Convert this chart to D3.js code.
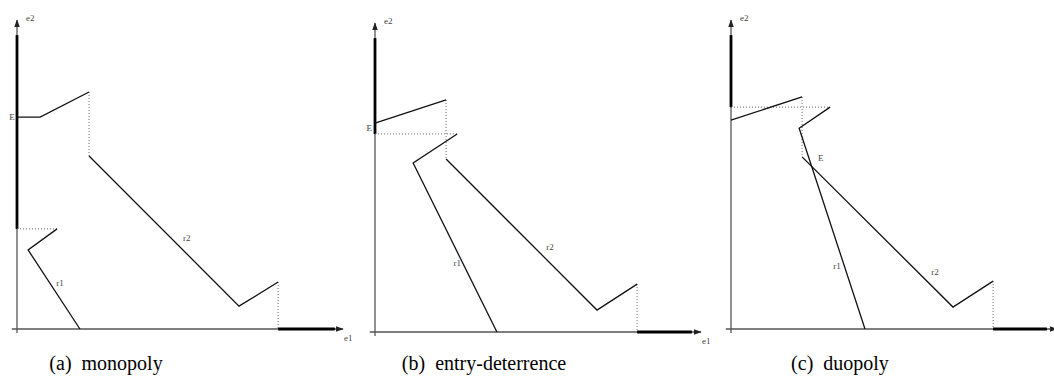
<!DOCTYPE html>
<html><head><meta charset="utf-8">
<script src="https://cdn.jsdelivr.net/npm/d3@7"></script>
<style>
html,body{margin:0;padding:0;background:#fff;}
svg{display:block;}
</style></head>
<body>
<svg id="chart" width="1054" height="385"></svg>
<script>
// ---- data (e1, e2 in abstract units 0..100) ----
const captions = ["(a)  monopoly", "(b)  entry-deterrence", "(c)  duopoly"];
// firm-2 reaction curve r2: solid pieces
const r2UpperE1 = [[0, 7.1, 22.1], [0, 21.8], [0, 21.8]];
const r2UpperE2 = [[68.6, 68.6, 76.7], [67.6, 75.1], [67.6, 75.1]];
const r2LowerE1 = [[22.1, 68.1, 80.1], [21.8, 68.1, 80.4], [21.8, 68.1, 80.4]];
const r2LowerE2 = [[56.0, 7.4, 15.2], [56.0, 7.1, 15.5], [55.7, 7.1, 15.5]];
// firm-1 reaction curve r1
const r1E1 = [[12.3, 3.4, 19.3], [25.2, 11.7, 37.4], [30.4, 20.9, 41.1]];
const r1E2 = [[32.4, 25.6, 0], [64.1, 54.7, 0], [71.8, 65.0, 0]];
// thick axis segments (corner solutions)
const thickE2Top = [95.1, 95.1, 95.1];
const thickE1End = [97.5, 97.2, 96.9];
// label positions
const eLabel = [[-1.5, 68.6], [-1.8, 66.0], [26.7, 55.3]];
const r1Label = [[13.2, 14.9], [25.2, 22.3], [32.5, 20.4]];
const r2Label = [[52.1, 29.4], [53.7, 27.5], [62.6, 18.4]];

// ---- layout ----
const origins = [[17, 329], [375, 332], [731, 329]];
const W = 326, H = 309;
const captionX = [106, 484, 840];

const svg = d3.select("#chart");
const defs = svg.append("defs");
defs.append("marker").attr("id", "arr").attr("viewBox", "0 0 10 10")
  .attr("refX", 9).attr("refY", 5).attr("markerWidth", 6).attr("markerHeight", 6)
  .attr("orient", "auto-start-reverse")
  .append("path").attr("d", "M0,1.5L10,5L0,8.5Z").attr("fill", "#222");

const lineCol = "#111", axisCol = "#555", dotCol = "#666";

captions.forEach((cap, i) => {
  const [ox, oy] = origins[i];
  const x = d3.scaleLinear().domain([0, 100]).range([ox, ox + W]);
  const y = d3.scaleLinear().domain([0, 100]).range([oy, oy - H]);
  const g = svg.append("g");
  const line = d3.line().x(d => x(d[0])).y(d => y(d[1]));
  const zip = (a, b) => a.map((v, k) => [v, b[k]]);

  // axes
  g.append("line").attr("x1", x(-1.6)).attr("x2", x(100)).attr("y1", y(0)).attr("y2", y(0))
    .attr("stroke", axisCol).attr("stroke-width", 1.3).attr("marker-end", "url(#arr)");
  g.append("line").attr("x1", x(0)).attr("x2", x(0)).attr("y1", y(-1.3)).attr("y2", y(100))
    .attr("stroke", axisCol).attr("stroke-width", 1.3).attr("marker-end", "url(#arr)");

  // thick corner segments
  const r1Top = r1E2[i][0];
  g.append("line").attr("x1", x(0)).attr("x2", x(0)).attr("y1", y(r1Top)).attr("y2", y(thickE2Top[i]))
    .attr("stroke", "#000").attr("stroke-width", 2.8);
  const r2End = r2LowerE1[i][r2LowerE1[i].length - 1];
  g.append("line").attr("x1", x(r2End)).attr("x2", x(thickE1End[i])).attr("y1", y(0)).attr("y2", y(0))
    .attr("stroke", "#000").attr("stroke-width", 2.8);

  // dotted connectors
  const up = zip(r2UpperE1[i], r2UpperE2[i]);
  const lo = zip(r2LowerE1[i], r2LowerE2[i]);
  const r1 = zip(r1E1[i], r1E2[i]);
  const dotted = (a, b) => g.append("path").attr("d", line([a, b])).attr("fill", "none")
    .attr("stroke", dotCol).attr("stroke-width", 1).attr("stroke-dasharray", "1,2");
  dotted(up[up.length - 1], lo[0]);
  dotted(lo[lo.length - 1], [lo[lo.length - 1][0], 0]);
  dotted([0, r1[0][1]], r1[0]);

  // solid curves
  [up, lo, r1].forEach(pts => g.append("path").attr("d", line(pts)).attr("fill", "none")
    .attr("stroke", lineCol).attr("stroke-width", 1.3).attr("stroke-linejoin", "miter"));

  // small labels
  const small = (t, px, py, anchor) => g.append("text").attr("x", px).attr("y", py)
    .attr("font-family", "Liberation Serif, Times New Roman, serif").attr("font-size", 9)
    .attr("fill", "#444").attr("text-anchor", anchor || "start").text(t);
  small("e2", x(0) + 9, y(100) + 1);
  small("e1", x(100) + 1, y(0) + 12);
  small("E", x(eLabel[i][0]), y(eLabel[i][1]) + 3, i === 2 ? "start" : "middle");
  small("r1", x(r1Label[i][0]), y(r1Label[i][1]) + 3, "middle");
  small("r2", x(r2Label[i][0]), y(r2Label[i][1]) + 3, "middle");

  // caption
  svg.append("text").attr("x", captionX[i]).attr("y", 370)
    .attr("font-family", "Liberation Serif, Times New Roman, serif").attr("font-size", 20)
    .attr("fill", "#000").attr("text-anchor", "middle").attr("xml:space", "preserve")
    .style("white-space", "pre").text(cap);
});
</script>
</body></html>
